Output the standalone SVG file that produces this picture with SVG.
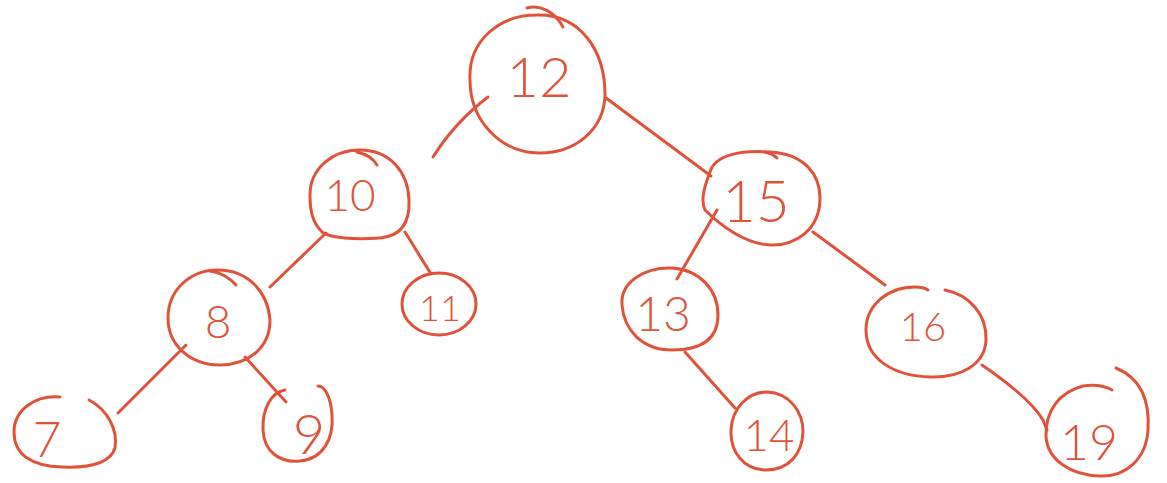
<svg xmlns="http://www.w3.org/2000/svg" width="1167" height="483" viewBox="0 0 1167 483">
  <style>
    .ink { fill: none; stroke: #e0533a; stroke-width: 3; stroke-linecap: round; stroke-linejoin: round; }
    .lbl { fill: #e0533a; font-family: "Lato", "Liberation Sans", "DejaVu Sans", sans-serif; font-weight: 300; text-anchor: middle; }
  </style>
  <rect width="1167" height="483" fill="#ffffff"/>

  <!-- edges of the tree -->
  <g id="connectors">
    <path class="ink" d="M433,157 Q455,122 488,97"/>
    <path class="ink" d="M606,98 L711,176"/>
    <path class="ink" d="M270,287 L326,233"/>
    <path class="ink" d="M405,232 L431,274"/>
    <path class="ink" d="M186,345 L118,413"/>
    <path class="ink" d="M245,357 L286,402"/>
    <path class="ink" d="M717,210 L677,279"/>
    <path class="ink" d="M813,232 L885,285"/>
    <path class="ink" d="M685,352 L735,408"/>
    <path class="ink" d="M982,365 Q1030,398 1043,420 L1047,430"/>
  </g>

  <g id="node-12">
    <path class="ink" d="M470,80 C468,40 500,15 537,15 C580,14 605,50 605,95 C604,130 575,153 540,153 C500,153 470,120 470,80 Z"/>
    <path class="ink" d="M527,8 C540,4 555,12 563,27"/>
    <text class="lbl" x="539" y="97" font-size="56">12</text>
  </g>

  <g id="node-10">
    <path class="ink" d="M310,195 C310,168 333,150 360,150 C390,150 408,172 409,200 C410,222 402,236 380,238 C355,240 330,238 322,232 C312,222 310,210 310,195 Z"/>
    <path class="ink" d="M357,152 C366,154 373,158 377,165"/>
    <text class="lbl" x="350" y="211" font-size="44">10</text>
  </g>

  <g id="node-11">
    <ellipse class="ink" cx="439" cy="304" rx="37" ry="31"/>
    <text class="lbl" x="440" y="321" font-size="36">11</text>
  </g>

  <g id="node-8">
    <path class="ink" d="M168,318 C168,290 190,270 218,270 C248,270 268,292 270,320 C270,348 248,365 220,365 C190,365 168,345 168,318 Z"/>
    <path class="ink" d="M210,271 C220,272 230,278 236,285"/>
    <text class="lbl" x="218" y="338" font-size="46">8</text>
  </g>

  <g id="node-7">
    <path class="ink" d="M89,400 C108,410 118,430 115,448 C110,464 88,468 62,467 C32,466 14,455 14,432 C14,410 35,395 60,397"/>
    <text class="lbl" x="47" y="457" font-size="50">7</text>
  </g>

  <g id="node-9">
    <path class="ink" d="M285,390 C272,392 262,408 263,430 C264,452 280,463 300,461 C322,459 334,440 332,415 C331,398 325,386 318,386"/>
    <text class="lbl" x="309" y="454" font-size="56">9</text>
  </g>

  <g id="node-15">
    <path class="ink" d="M710,172 C715,155 740,150 770,152 C805,154 820,175 820,198 C820,230 795,246 770,245 C745,244 720,225 705,210 C700,200 705,185 710,172 Z"/>
    <path class="ink" d="M765,152 C770,153 775,156 777,158"/>
    <text class="lbl" x="756" y="222" font-size="58">15</text>
  </g>

  <g id="node-13">
    <path class="ink" d="M622,305 C620,282 645,267 672,268 C700,270 718,290 718,315 C718,340 700,350 672,350 C642,350 624,330 622,305 Z"/>
    <text class="lbl" x="663" y="331" font-size="48">13</text>
  </g>

  <g id="node-14">
    <path class="ink" d="M767,392 C790,393 803,412 803,432 C802,455 788,470 766,470 C744,470 730,452 731,430 C732,408 748,392 767,392 Z"/>
    <text class="lbl" x="769" y="451" font-size="44">14</text>
  </g>

  <g id="node-16">
    <path class="ink" d="M945,290 C970,295 987,315 986,340 C985,365 960,378 930,377 C895,376 866,360 866,330 C866,305 888,287 915,287 C920,287 925,288 928,290"/>
    <text class="lbl" x="923" y="341" font-size="40">16</text>
  </g>

  <g id="node-19">
    <path class="ink" d="M1116,368 C1140,378 1150,400 1148,430 C1146,460 1125,477 1100,476 C1070,475 1048,460 1046,437 C1045,410 1060,392 1083,386 C1095,384 1105,386 1112,390"/>
    <text class="lbl" x="1089" y="460" font-size="50">19</text>
  </g>
</svg>
